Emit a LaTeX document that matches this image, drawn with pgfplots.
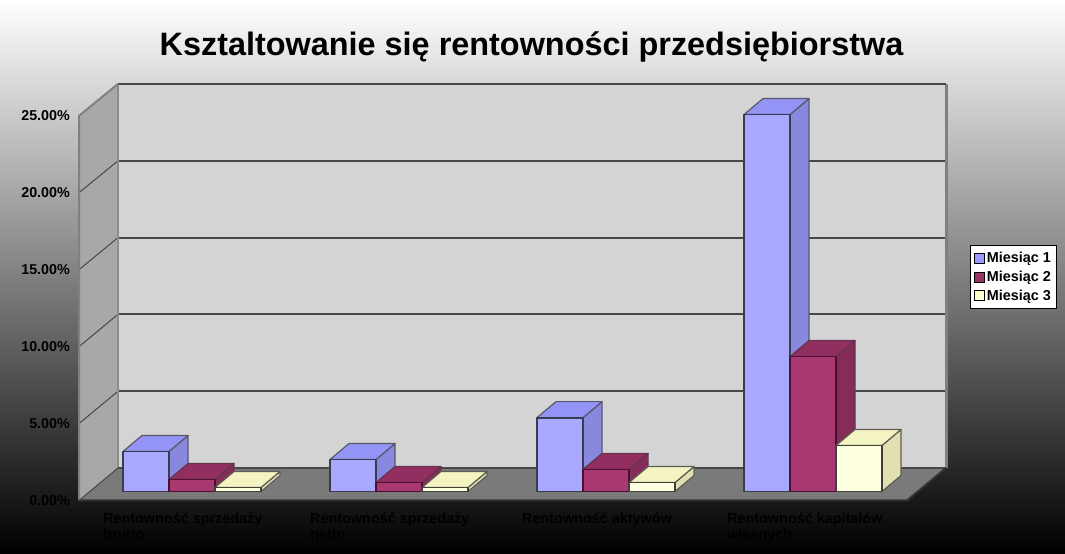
\documentclass[border=0pt]{standalone}
\usepackage{fontspec}
\setmainfont{Liberation Sans}
\usepackage{pgfplots}
\pgfplotsset{compat=1.18}

\definecolor{bluefront}{HTML}{A8A8FF}
\definecolor{bluetop}{HTML}{9494F6}
\definecolor{blueside}{HTML}{8888DE}
\definecolor{blueedge}{HTML}{3A3A50}
\definecolor{redfront}{HTML}{A83870}
\definecolor{redtop}{HTML}{932E60}
\definecolor{redside}{HTML}{852C58}
\definecolor{rededge}{HTML}{4A1030}
\definecolor{yelfront}{HTML}{FFFFE2}
\definecolor{yeltop}{HTML}{F4F4C2}
\definecolor{yelside}{HTML}{E0E0B2}
\definecolor{yeledge}{HTML}{404038}
\definecolor{legblue}{HTML}{9999FF}
\definecolor{legred}{HTML}{993366}
\definecolor{legyel}{HTML}{FFFFCC}

% 1% = 15.4 px, bars stand 9 px above the front floor edge, depth 19 px / 16 px
\newcommand{\bardd}[3]{% left x, value, colour prefix
  \pgfmathsetmacro{\xa}{#1}
  \pgfmathsetmacro{\xb}{#1+46}
  \pgfmathsetmacro{\xc}{#1+46+19}
  \pgfmathsetmacro{\xd}{#1+19}
  \pgfmathsetmacro{\ya}{0.585}
  \pgfmathsetmacro{\yb}{0.585+#2}
  \pgfmathsetmacro{\yc}{0.585+#2+1.039}
  \pgfmathsetmacro{\yd}{0.585+1.039}
  \addplot[fill=#3side,draw=#3edge!85!white,line width=1.2pt,line join=round] coordinates {(\xb,\ya) (\xc,\yd) (\xc,\yc) (\xb,\yb)} --cycle;
  \addplot[fill=#3top,draw=#3edge!85!white,line width=1.2pt,line join=round] coordinates {(\xa,\yb) (\xb,\yb) (\xc,\yc) (\xd,\yc)} --cycle;
  \addplot[fill=#3front,draw=#3edge,line width=1.8pt,line join=round] coordinates {(\xa,\ya) (\xb,\ya) (\xb,\yb) (\xa,\yb)} --cycle;
}

\begin{document}
\begin{tikzpicture}
\begin{axis}[
  scale only axis,
  width=1065pt,
  height=553.4pt,
  xmin=0, xmax=1065,
  ymin=-3.44, ymax=32.53,
  axis background/.style={top color=white,bottom color=black},
  axis line style={draw=none},
  tick style={draw=none},
  major tick length=0pt,
  ytick={0,5,10,15,20,25},
  yticklabels={0.00\%,5.00\%,10.00\%,15.00\%,20.00\%,25.00\%},
  yticklabel style={anchor=east,xshift=70pt,font=\fontsize{14.3}{16}\selectfont\bfseries,text=black,inner sep=0pt},
  xtick={103,310,522,727},
  xticklabels={{Rentowność sprzedaży\\brutto},{Rentowność sprzedaży\\netto},{Rentowność aktywów},{Rentowność kapitałów\\własnych}},
  xticklabel style={anchor=north west,align=left,yshift=41pt,font=\fontsize{14.4}{16}\selectfont\bfseries,text=black,inner sep=0pt},
  title={Ksztaltowanie się rentowności przedsiębiorstwa},
  title style={at={(531.5/1065,1-53/554)},anchor=center,font=\fontsize{32.4}{36}\selectfont\bfseries,text=black,inner sep=0pt},
  legend style={at={(970/1065,1-245/554)},anchor=north west,draw=black,line width=1pt,fill=white,
    font=\fontsize{14.4}{16}\selectfont\bfseries,inner sep=3.5pt,
    nodes={inner sep=2pt,minimum height=18.8pt},row sep=0pt},
  legend cell align=left,
  legend image code/.code={\draw[#1,line width=0.8pt] (0pt,-5pt) rectangle (10pt,5pt);},
]
\addlegendimage{fill=legblue,draw=black}
\addlegendimage{fill=legred,draw=black}
\addlegendimage{fill=legyel,draw=black}
\legend{Miesiąc 1,Miesiąc 2,Miesiąc 3}

% walls and floor
\addplot[fill=black!17,draw=none] coordinates {(118,2.11) (946,2.11) (946,27.078) (118,27.078)} --cycle;
\addplot[fill=black!34,draw=none] coordinates {(79,0) (118,2.11) (118,27.078) (79,25)} --cycle;
\addplot[fill=black!52,draw=none] coordinates {(79,0) (907,0) (946,2.11) (118,2.11)} --cycle;

% grid
\addplot[draw=black!72,line width=1pt] coordinates {(79,5) (118,7.1)};
\addplot[draw=black!72,line width=1pt] coordinates {(79,10) (118,12.1)};
\addplot[draw=black!72,line width=1pt] coordinates {(79,15) (118,17.09)};
\addplot[draw=black!72,line width=1pt] coordinates {(79,20) (118,22.08)};
\addplot[draw=black!72,line width=2pt] coordinates {(118,7.1) (946,7.1)};
\addplot[draw=black!72,line width=2pt] coordinates {(118,12.1) (946,12.1)};
\addplot[draw=black!72,line width=2pt] coordinates {(118,17.09) (946,17.09)};
\addplot[draw=black!72,line width=2pt] coordinates {(118,22.08) (946,22.08)};

% frame
\addplot[draw=black!45,line width=2pt] coordinates {(118,2.11) (118,27.078)};
\addplot[draw=black!50,line width=3pt] coordinates {(946,2.11) (946,27.078)};
\addplot[draw=black!72,line width=2pt] coordinates {(118,27.078) (946,27.078)};
\addplot[draw=black!72,line width=2pt] coordinates {(118,2.11) (946,2.11)};
\addplot[draw=black!50,line width=2pt] coordinates {(79,0) (79,25) (118,27.078)};
\addplot[draw=black!80,line width=2pt] coordinates {(79,0) (907,0) (946,2.11)};
\addplot[draw=black!72,line width=1pt] coordinates {(79,0) (118,2.11)};

% Rentownosc sprzedazy brutto
\bardd{123}{2.6}{blue}
\bardd{169}{0.78}{red}
\bardd{215}{0.26}{yel}
% Rentownosc sprzedazy netto
\bardd{330}{2.08}{blue}
\bardd{376}{0.58}{red}
\bardd{422}{0.26}{yel}
% Rentownosc aktywow
\bardd{537}{4.8}{blue}
\bardd{583}{1.43}{red}
\bardd{629}{0.58}{yel}
% Rentownosc kapitalow wlasnych
\bardd{744}{24.5}{blue}
\bardd{790}{8.77}{red}
\bardd{836}{2.99}{yel}
\end{axis}
\end{tikzpicture}
\end{document}
